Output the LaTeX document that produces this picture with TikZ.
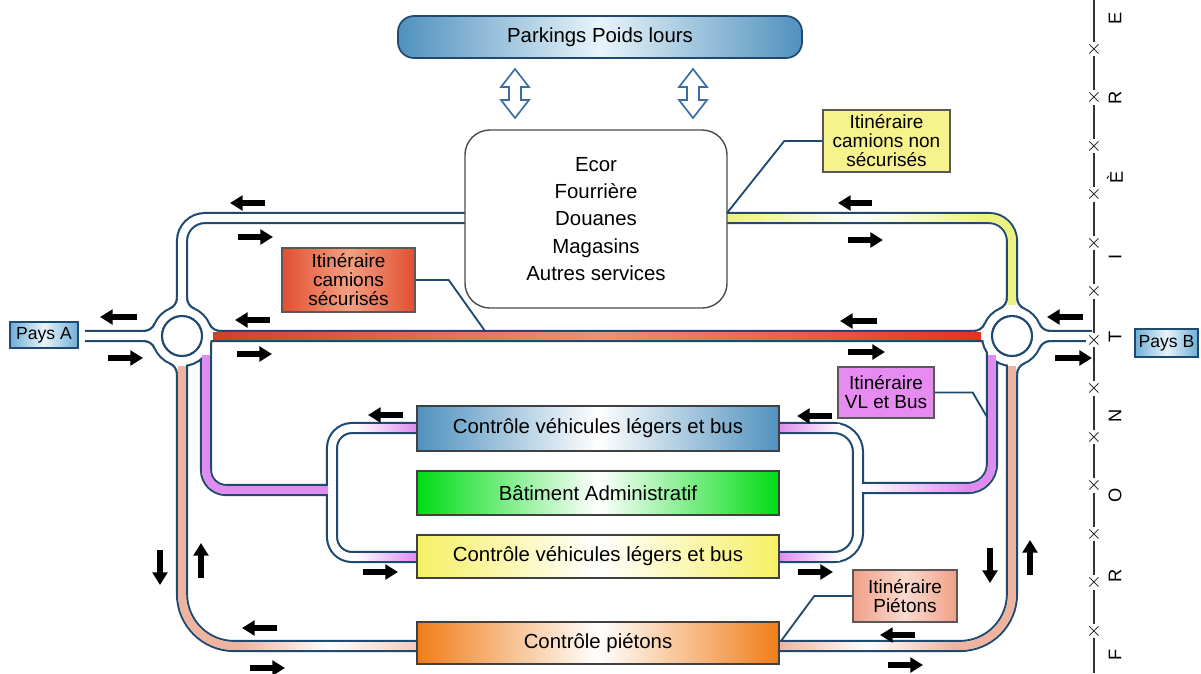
\documentclass[tikz,border=0pt]{standalone}
\usepackage{fontspec}
\setmainfont{Liberation Sans}
\usetikzlibrary{arrows.meta}
\definecolor{roadblue}{RGB}{31,73,110}
\definecolor{hollowblue}{RGB}{58,110,160}
\definecolor{steel}{RGB}{80,145,190}
\definecolor{palesky}{RGB}{232,244,250}
\definecolor{trunkred}{RGB}{206,66,38}
\definecolor{trunkpale}{RGB}{236,146,116}
\definecolor{lanered}{RGB}{228,50,28}
\definecolor{laneyellow}{RGB}{236,242,130}
\definecolor{lanepink}{RGB}{222,140,238}
\definecolor{lanesalmon}{RGB}{238,180,160}
\definecolor{tagyellow}{RGB}{246,242,140}
\definecolor{tagred}{RGB}{226,78,48}
\definecolor{tagredpale}{RGB}{244,160,130}
\definecolor{tagviolet}{RGB}{230,140,240}
\definecolor{tagsalmon}{RGB}{240,160,135}
\definecolor{admingreen}{RGB}{0,220,20}
\definecolor{ctrlyellow}{RGB}{246,240,100}
\definecolor{ctrlorange}{RGB}{240,125,25}
\definecolor{paysblue}{RGB}{110,175,215}

% centre lines of every road, in pixels of the plan
\newcommand{\roadnet}{%
  (85,336) -- (1092,336)
  [rounded corners=0.575cm] (182,336) |- (1012,218) -- (1012,336)
  [rounded corners=1.3cm] (182,336) |- (1012,646) -- (1012,336)
  [rounded corners=0.5cm] (206,336) |- (332,490)
  [rounded corners=0.6cm] (992,336) |- (858,488)
  [rounded corners=0.5cm] (417,428) -| (332,557) -- (417,557)
  [rounded corners=0.6cm] (779,428) -| (858,557) -- (779,557)
  (182,336) circle (25) (1012,336) circle (25)}
% flared kerbs of one quarter of a roundabout (up and left arms)
\newcommand{\fillets}{%
  \fill[white] (-5,-38.41) arc[start angle=0,end angle=66.1,radius=12]
    -- (-11.7,-26.43) -- (-3.9,-28.6) -- (-3.9,-38.41) -- cycle;
  \fill[white] (-38.41,-5) arc[start angle=90,end angle=23.9,radius=12]
    -- (-26.43,-11.7) -- (-28.6,-3.9) -- (-38.41,-3.9) -- cycle;
  \draw[roadblue,line width=1.5pt] (-5,-38.41) arc[start angle=0,end angle=66.1,radius=12];
  \draw[roadblue,line width=1.5pt] (-38.41,-5) arc[start angle=90,end angle=23.9,radius=12];}
\newcommand{\twoway}[1]{%
  \draw[hollowblue,line width=1.2pt,fill=white] (#1,69) -- ++(14,18) -- ++(-8,0)
    -- ++(0,13) -- ++(8,0) -- ++(-14,18) -- ++(-14,-18) -- ++(8,0) -- ++(0,-13)
    -- ++(-8,0) -- cycle;}

\begin{document}
\begin{tikzpicture}[x=0.025cm,y=-0.025cm,
    roadedge/.style={draw=roadblue,line width=8.6pt},
    roadlane/.style={draw=white,line width=5.6pt},
    flow/.style={line width=3.6pt,-{Triangle[length=9pt,width=10.5pt]}},
    callout/.style={draw=roadblue,line width=1.3pt},
    ctrl/.style={draw=black!75,line width=1pt,minimum width=9.05cm,
      font=\fontsize{14.5}{17}\selectfont},
    tag/.style={draw=black!65,line width=1pt,align=center,inner sep=1pt,
      font=\fontsize{13.5}{13.5}\selectfont},
    country/.style={draw=roadblue,line width=1pt,left color=paysblue,
      right color=paysblue,middle color=palesky,inner sep=1pt,
      font=\fontsize{12.5}{14}\selectfont}]
  \useasboundingbox (0,0) rectangle (1201,673);

  % roads: dark edges first, lanes over them
  \draw[roadedge] \roadnet;
  \draw[roadlane] \roadnet;
  \begin{scope}[shift={(182,336)}] \fillets \end{scope}
  \begin{scope}[shift={(182,336)},yscale=-1] \fillets \end{scope}
  \begin{scope}[shift={(182,336)},xscale=-1] \fillets \end{scope}
  \begin{scope}[shift={(1012,336)}] \fillets \end{scope}
  \begin{scope}[shift={(1012,336)},xscale=-1] \fillets \end{scope}
  \begin{scope}[shift={(1012,336)},xscale=-1,yscale=-1] \fillets \end{scope}

  % coloured itineraries
  \shade[left color=trunkred,right color=lanered,middle color=trunkpale]
    (213,332.1) rectangle (981,339.9);
  \shade[left color=laneyellow,right color=laneyellow,middle color=white]
    (727,214.1) rectangle (989,221.9);
  \draw[laneyellow,line width=5.6pt,rounded corners=0.575cm] (989,218) -| (1012,305);
  \draw[lanesalmon,line width=5.6pt,rounded corners=1.3cm] (182,366) |- (240,646);
  \shade[left color=lanesalmon,right color=lanesalmon!70,middle color=white]
    (240,642.1) rectangle (417,649.9);
  \shade[left color=lanesalmon,right color=lanesalmon,middle color=white]
    (779,642.1) rectangle (955,649.9);
  \draw[lanesalmon,line width=5.6pt,rounded corners=1.3cm] (955,646) -| (1012,366);
  \draw[lanepink,line width=5.6pt,rounded corners=0.5cm] (206,355) |- (328,490);
  \shade[left color=white,right color=lanepink] (862,484.1) rectangle (968,491.9);
  \draw[lanepink,line width=5.6pt,rounded corners=0.6cm] (968,488) -| (992,355);
  \shade[left color=white,right color=lanepink] (355,424.1) rectangle (417,431.9);
  \shade[left color=white,right color=lanepink] (355,553.1) rectangle (417,560.9);
  \shade[left color=lanepink,right color=white] (779,424.1) rectangle (840,431.9);
  \shade[left color=lanepink,right color=white] (779,553.1) rectangle (840,560.9);

  % roundabout islands
  \draw[roadblue,line width=1.5pt,fill=white] (182,336) circle (20) (1012,336) circle (20);

  % buildings and checkpoints
  \node[draw=roadblue,line width=1.2pt,rounded corners=0.4cm,left color=steel,
    right color=steel,middle color=palesky,minimum width=10.1cm,minimum height=1.05cm,
    font=\fontsize{14.5}{17}\selectfont] (parking) at (600,37) {Parkings Poids lours};
  \twoway{515}
  \twoway{693}
  \node[draw=black!70,line width=1pt,rounded corners=0.625cm,fill=white,align=center,
    minimum width=6.55cm,minimum height=4.45cm,font=\fontsize{14.5}{19.5}\selectfont]
    (services) at (596,219) {Ecor\\Fourrière\\Douanes\\Magasins\\Autres services};
  \node[ctrl,minimum height=1.125cm,left color=steel,right color=steel,
    middle color=white] (vltop) at (598,428.5) {Contrôle véhicules légers et bus};
  \node[ctrl,minimum height=1.1cm,left color=admingreen,right color=admingreen,
    middle color=white] (admin) at (598,493) {Bâtiment Administratif};
  \node[ctrl,minimum height=1.075cm,left color=ctrlyellow,right color=ctrlyellow,
    middle color=white] (vlbot) at (598,556.5) {Contrôle véhicules légers et bus};
  \node[ctrl,minimum height=1.05cm,left color=ctrlorange,right color=ctrlorange,
    middle color=white] (pietons) at (598,643) {Contrôle piétons};
  \node[country,minimum width=1.7cm,minimum height=0.65cm] (paysA) at (44,335) {Pays A};
  \node[country,minimum width=1.575cm,minimum height=0.7cm] (paysB) at (1166.5,343) {Pays B};

  % itinerary labels
  \node[tag,fill=tagyellow,minimum width=3.175cm,minimum height=1.55cm]
    (nonsecu) at (886.5,141) {Itinéraire\\camions non\\sécurisés};
  \node[tag,left color=tagred,right color=tagred,middle color=tagredpale,
    minimum width=3.325cm,minimum height=1.6cm]
    (secu) at (348.5,280) {Itinéraire\\camions\\sécurisés};
  \node[tag,fill=tagviolet,minimum width=2.4cm,minimum height=1.275cm]
    (vlbus) at (886,392.5) {Itinéraire\\VL et Bus};
  \node[tag,left color=tagsalmon,right color=tagsalmon,middle color=tagsalmon!40,
    minimum width=2.6cm,minimum height=1.3cm]
    (pieton) at (905,596) {Itinéraire\\Piétons};
  \coordinate (nonsecuend) at (727,213);
  \coordinate (secuend) at (485,331);
  \coordinate (vlbusend) at (987,417);
  \coordinate (pietonend) at (781,641);
  \draw[callout] (nonsecu.west) -- ++(-38,0) -- (nonsecuend);
  \draw[callout] (secu.east) -- ++(33,0) -- (secuend);
  \draw[callout] (vlbus.east) -- ++(38,0) -- (vlbusend);
  \draw[callout] (pieton.west) -- ++(-38,0) -- (pietonend);

  % traffic directions
  \draw[flow] (265,203) -- (230,203);  \draw[flow] (238,237) -- (273,237);
  \draw[flow] (872,203) -- (838,203);  \draw[flow] (848,240) -- (883,240);
  \draw[flow] (137,317) -- (100,317);  \draw[flow] (108,358) -- (143,358);
  \draw[flow] (270,320) -- (235,320);  \draw[flow] (237,354) -- (272,354);
  \draw[flow] (877,321) -- (840,321);  \draw[flow] (848,352) -- (885,352);
  \draw[flow] (1083,317) -- (1047,317);  \draw[flow] (1055,358) -- (1092,358);
  \draw[flow] (403,415) -- (368,415);  \draw[flow] (832,416) -- (797,416);
  \draw[flow] (363,572) -- (398,572);  \draw[flow] (798,572) -- (833,572);
  \draw[flow] (160,550) -- (160,585);  \draw[flow] (201,578) -- (201,543);
  \draw[flow] (990,548) -- (990,583);  \draw[flow] (1030,575) -- (1030,540);
  \draw[flow] (277,628) -- (242,628);  \draw[flow] (250,668) -- (285,668);
  \draw[flow] (915,635) -- (880,635);  \draw[flow] (888,665) -- (923,665);

  % border
  \draw[black!80,line width=0.9pt] (1094,0) -- (1094,673);
  \foreach \k in {0,...,12}
    \node[fill=white,inner sep=0.3pt,font=\fontsize{14}{14}\selectfont]
      at (1094,49+48.5*\k) {$\times$};
  \foreach \l [count=\i from 0] in {F,R,O,N,T,I,È,R,E}
    \node[rotate=90,font=\fontsize{13}{13}\selectfont] at (1115,655-79.6*\i) {\l};
\end{tikzpicture}
\end{document}
